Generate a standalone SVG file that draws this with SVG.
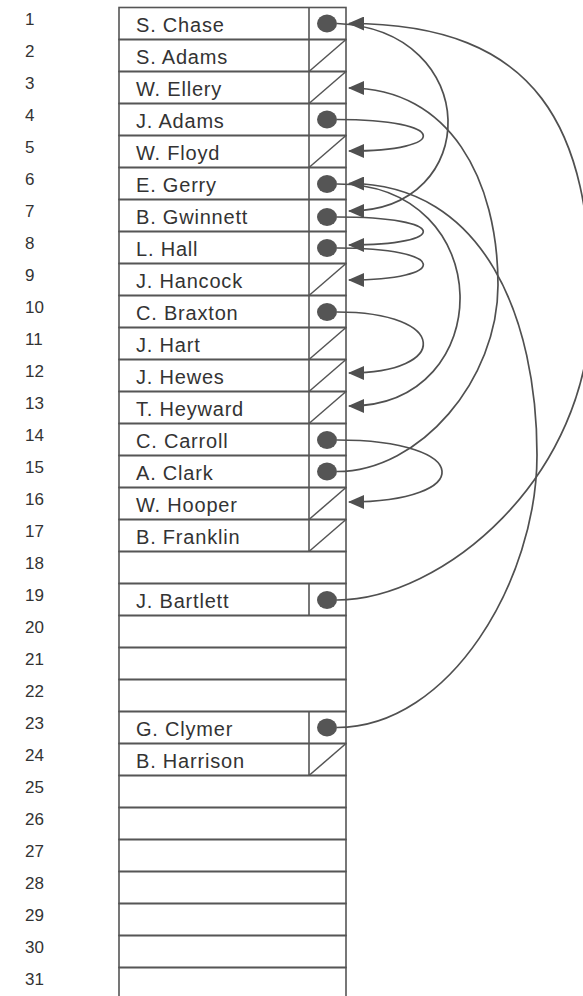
<svg xmlns="http://www.w3.org/2000/svg" width="583" height="996" viewBox="0 0 583 996">
<style>
.bg{fill:#ffffff}
.cell{fill:none;stroke:#555;stroke-width:1.6}
.div{stroke:#555;stroke-width:1.6}
.slash{stroke:#555;stroke-width:1.5}
.dot{fill:#555}
.name{font-family:"Liberation Sans",Arial,sans-serif;font-size:20px;letter-spacing:0.8px;fill:#333}
.num{font-family:"Liberation Sans",Arial,sans-serif;font-size:17px;fill:#333}
.link{fill:none;stroke:#505050;stroke-width:1.7}
</style>
<defs>
<marker id="arr" markerUnits="userSpaceOnUse" markerWidth="16" markerHeight="14" viewBox="0 0 16 14" refX="15" refY="7" orient="auto">
<path d="M0,0 L16,7 L0,14 z" fill="#505050"/>
</marker>
</defs>
<rect class="bg" x="0" y="0" width="583" height="996"/>
<g id="numbers">
<text class="num" x="25" y="25">1</text>
<text class="num" x="25" y="57">2</text>
<text class="num" x="25" y="89">3</text>
<text class="num" x="25" y="121">4</text>
<text class="num" x="25" y="153">5</text>
<text class="num" x="25" y="185">6</text>
<text class="num" x="25" y="217">7</text>
<text class="num" x="25" y="249">8</text>
<text class="num" x="25" y="281">9</text>
<text class="num" x="25" y="313">10</text>
<text class="num" x="25" y="345">11</text>
<text class="num" x="25" y="377">12</text>
<text class="num" x="25" y="409">13</text>
<text class="num" x="25" y="441">14</text>
<text class="num" x="25" y="473">15</text>
<text class="num" x="25" y="505">16</text>
<text class="num" x="25" y="537">17</text>
<text class="num" x="25" y="569">18</text>
<text class="num" x="25" y="601">19</text>
<text class="num" x="25" y="633">20</text>
<text class="num" x="25" y="665">21</text>
<text class="num" x="25" y="697">22</text>
<text class="num" x="25" y="729">23</text>
<text class="num" x="25" y="761">24</text>
<text class="num" x="25" y="793">25</text>
<text class="num" x="25" y="825">26</text>
<text class="num" x="25" y="857">27</text>
<text class="num" x="25" y="889">28</text>
<text class="num" x="25" y="921">29</text>
<text class="num" x="25" y="953">30</text>
<text class="num" x="25" y="985">31</text>
</g>
<g id="row1"><rect class="cell" x="119" y="7.5" width="227" height="32"/><line class="div" x1="309" y1="7.5" x2="309" y2="39.5"/><text class="name" x="136" y="32">S. Chase</text><ellipse class="dot" cx="327" cy="23.5" rx="10" ry="9"/></g>
<g id="row2"><rect class="cell" x="119" y="39.5" width="227" height="32"/><line class="div" x1="309" y1="39.5" x2="309" y2="71.5"/><text class="name" x="136" y="64">S. Adams</text><line class="slash" x1="309" y1="71.5" x2="346" y2="39.5"/></g>
<g id="row3"><rect class="cell" x="119" y="71.5" width="227" height="32"/><line class="div" x1="309" y1="71.5" x2="309" y2="103.5"/><text class="name" x="136" y="96">W. Ellery</text><line class="slash" x1="309" y1="103.5" x2="346" y2="71.5"/></g>
<g id="row4"><rect class="cell" x="119" y="103.5" width="227" height="32"/><line class="div" x1="309" y1="103.5" x2="309" y2="135.5"/><text class="name" x="136" y="128">J. Adams</text><ellipse class="dot" cx="327" cy="119.5" rx="10" ry="9"/></g>
<g id="row5"><rect class="cell" x="119" y="135.5" width="227" height="32"/><line class="div" x1="309" y1="135.5" x2="309" y2="167.5"/><text class="name" x="136" y="160">W. Floyd</text><line class="slash" x1="309" y1="167.5" x2="346" y2="135.5"/></g>
<g id="row6"><rect class="cell" x="119" y="167.5" width="227" height="32"/><line class="div" x1="309" y1="167.5" x2="309" y2="199.5"/><text class="name" x="136" y="192">E. Gerry</text><ellipse class="dot" cx="327" cy="184" rx="10" ry="9"/></g>
<g id="row7"><rect class="cell" x="119" y="199.5" width="227" height="32"/><line class="div" x1="309" y1="199.5" x2="309" y2="231.5"/><text class="name" x="136" y="224">B. Gwinnett</text><ellipse class="dot" cx="327" cy="217" rx="10" ry="9"/></g>
<g id="row8"><rect class="cell" x="119" y="231.5" width="227" height="32"/><line class="div" x1="309" y1="231.5" x2="309" y2="263.5"/><text class="name" x="136" y="256">L. Hall</text><ellipse class="dot" cx="327" cy="248" rx="10" ry="9"/></g>
<g id="row9"><rect class="cell" x="119" y="263.5" width="227" height="32"/><line class="div" x1="309" y1="263.5" x2="309" y2="295.5"/><text class="name" x="136" y="288">J. Hancock</text><line class="slash" x1="309" y1="295.5" x2="346" y2="263.5"/></g>
<g id="row10"><rect class="cell" x="119" y="295.5" width="227" height="32"/><line class="div" x1="309" y1="295.5" x2="309" y2="327.5"/><text class="name" x="136" y="320">C. Braxton</text><ellipse class="dot" cx="327" cy="312" rx="10" ry="9"/></g>
<g id="row11"><rect class="cell" x="119" y="327.5" width="227" height="32"/><line class="div" x1="309" y1="327.5" x2="309" y2="359.5"/><text class="name" x="136" y="352">J. Hart</text><line class="slash" x1="309" y1="359.5" x2="346" y2="327.5"/></g>
<g id="row12"><rect class="cell" x="119" y="359.5" width="227" height="32"/><line class="div" x1="309" y1="359.5" x2="309" y2="391.5"/><text class="name" x="136" y="384">J. Hewes</text><line class="slash" x1="309" y1="391.5" x2="346" y2="359.5"/></g>
<g id="row13"><rect class="cell" x="119" y="391.5" width="227" height="32"/><line class="div" x1="309" y1="391.5" x2="309" y2="423.5"/><text class="name" x="136" y="416">T. Heyward</text><line class="slash" x1="309" y1="423.5" x2="346" y2="391.5"/></g>
<g id="row14"><rect class="cell" x="119" y="423.5" width="227" height="32"/><line class="div" x1="309" y1="423.5" x2="309" y2="455.5"/><text class="name" x="136" y="448">C. Carroll</text><ellipse class="dot" cx="327" cy="440" rx="10" ry="9"/></g>
<g id="row15"><rect class="cell" x="119" y="455.5" width="227" height="32"/><line class="div" x1="309" y1="455.5" x2="309" y2="487.5"/><text class="name" x="136" y="480">A. Clark</text><ellipse class="dot" cx="327" cy="471.5" rx="10" ry="9"/></g>
<g id="row16"><rect class="cell" x="119" y="487.5" width="227" height="32"/><line class="div" x1="309" y1="487.5" x2="309" y2="519.5"/><text class="name" x="136" y="512">W. Hooper</text><line class="slash" x1="309" y1="519.5" x2="346" y2="487.5"/></g>
<g id="row17"><rect class="cell" x="119" y="519.5" width="227" height="32"/><line class="div" x1="309" y1="519.5" x2="309" y2="551.5"/><text class="name" x="136" y="544">B. Franklin</text><line class="slash" x1="309" y1="551.5" x2="346" y2="519.5"/></g>
<g id="row18"><rect class="cell" x="119" y="551.5" width="227" height="32"/></g>
<g id="row19"><rect class="cell" x="119" y="583.5" width="227" height="32"/><line class="div" x1="309" y1="583.5" x2="309" y2="615.5"/><text class="name" x="136" y="608">J. Bartlett</text><ellipse class="dot" cx="327" cy="600" rx="10" ry="9"/></g>
<g id="row20"><rect class="cell" x="119" y="615.5" width="227" height="32"/></g>
<g id="row21"><rect class="cell" x="119" y="647.5" width="227" height="32"/></g>
<g id="row22"><rect class="cell" x="119" y="679.5" width="227" height="32"/></g>
<g id="row23"><rect class="cell" x="119" y="711.5" width="227" height="32"/><line class="div" x1="309" y1="711.5" x2="309" y2="743.5"/><text class="name" x="136" y="736">G. Clymer</text><ellipse class="dot" cx="327" cy="727.5" rx="10" ry="9"/></g>
<g id="row24"><rect class="cell" x="119" y="743.5" width="227" height="32"/><line class="div" x1="309" y1="743.5" x2="309" y2="775.5"/><text class="name" x="136" y="768">B. Harrison</text><line class="slash" x1="309" y1="775.5" x2="346" y2="743.5"/></g>
<g id="row25"><rect class="cell" x="119" y="775.5" width="227" height="32"/></g>
<g id="row26"><rect class="cell" x="119" y="807.5" width="227" height="32"/></g>
<g id="row27"><rect class="cell" x="119" y="839.5" width="227" height="32"/></g>
<g id="row28"><rect class="cell" x="119" y="871.5" width="227" height="32"/></g>
<g id="row29"><rect class="cell" x="119" y="903.5" width="227" height="32"/></g>
<g id="row30"><rect class="cell" x="119" y="935.5" width="227" height="32"/></g>
<g id="row31"><rect class="cell" x="119" y="967.5" width="227" height="40"/></g>
<g id="connectors">
<path class="link" marker-end="url(#arr)" d="M 337 23.5 C 483 30, 483 211, 349 211"/>
<path class="link" marker-end="url(#arr)" d="M 337 119.5 C 450 119.5, 450 151, 349 151"/>
<path class="link" marker-end="url(#arr)" d="M 337 217 C 450 217, 450 245, 349 245"/>
<path class="link" marker-end="url(#arr)" d="M 337 248 C 450 248, 450 280, 349 280"/>
<path class="link" marker-end="url(#arr)" d="M 337 312 C 450 312, 450 373, 349 373"/>
<path class="link" marker-end="url(#arr)" d="M 337 440 C 475 440, 475 502, 349 502"/>
<path class="link" marker-end="url(#arr)" d="M 337 184 C 499 184, 499 406, 349 406"/>
<path class="link" marker-end="url(#arr)" d="M 337 471.5 C 420 471.5, 498 380, 498 285 C 498 180, 450 88, 349 88"/>
<path class="link" marker-end="url(#arr)" d="M 337 600 C 440 600, 591 480, 591 303 C 591 130, 540 23.5, 349 23.5"/>
<path class="link" marker-end="url(#arr)" d="M 337 727.5 C 450 727.5, 537 580, 537 455 C 537 320, 485 183.5, 349 183.5"/>
</g>
</svg>
